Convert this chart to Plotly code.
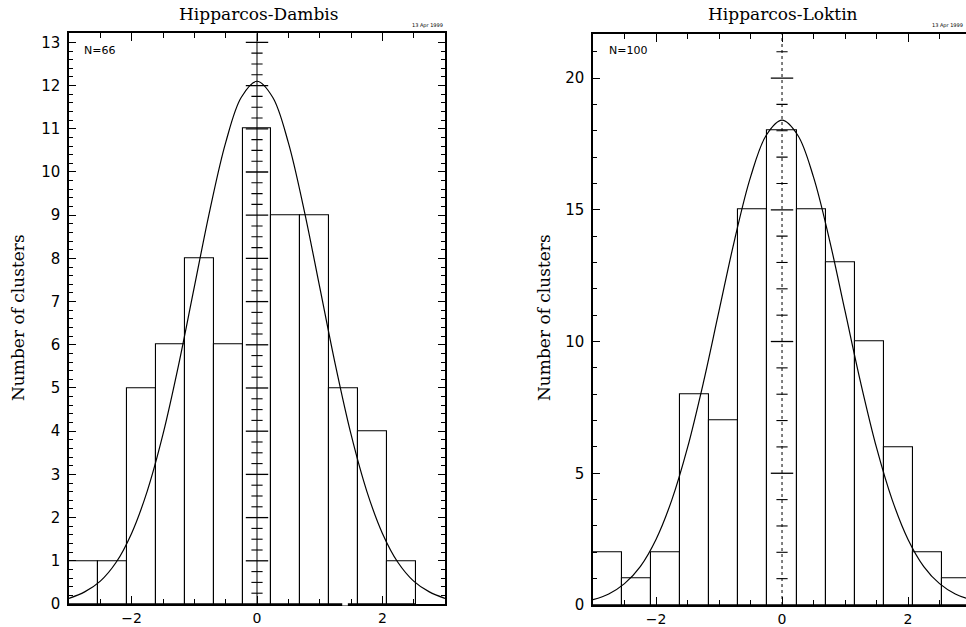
import numpy as np
import plotly.graph_objects as go

# ---------------- data ----------------
bin_width = 0.4625
left_centers = [-2.775, -2.3125, -1.85, -1.3875, -0.925, -0.4625, 0.0,
                0.4625, 0.925, 1.3875, 1.85, 2.3125]
left_counts = [1, 1, 5, 6, 8, 6, 11, 9, 9, 5, 4, 1]

right_centers = [-2.775, -2.3125, -1.85, -1.3875, -0.925, -0.4625, 0.0,
                 0.4625, 0.925, 1.3875, 1.85, 2.3125, 2.775]
right_counts = [2, 1, 2, 8, 7, 15, 18, 15, 13, 10, 6, 2, 1]

curve_x = [-3.0, -2.75, -2.5, -2.25, -2.0, -1.75, -1.5, -1.25, -1.0, -0.75, -0.5, -0.25,
           0.0, 0.25, 0.5, 0.75, 1.0, 1.25, 1.5, 1.75, 2.0, 2.25, 2.5, 2.75, 3.0]
left_curve = [0.13, 0.28, 0.53, 0.96, 1.64, 2.62, 3.93, 5.54, 7.34, 9.13, 10.68, 11.73,
              12.1, 11.73, 10.68, 9.13, 7.34, 5.54, 3.93, 2.62, 1.64, 0.96, 0.53, 0.28, 0.13]
right_curve = [0.20, 0.42, 0.81, 1.46, 2.49, 3.98, 5.97, 8.42, 11.16, 13.89, 16.24, 17.83,
               18.4, 17.83, 16.24, 13.89, 11.16, 8.42, 5.97, 3.98, 2.49, 1.46, 0.81, 0.42, 0.20]

titles = ["Hipparcos-Dambis", "Hipparcos-Loktin"]
n_labels = ["N=66", "N=100"]
y_title = "Number of clusters"
date_stamp = "13 Apr 1999"

# ---------------- figure ----------------
W, H = 966, 627
fig = go.Figure()

BLACK = "black"
LINE_W = 1.1

panels = [
    dict(xa="x", ya="y", centers=left_centers, counts=left_counts, curve=left_curve,
         ymax=13.21, xr=[-3, 3], dom_x=[69 / W, 445 / W], dom_y=[1 - 604 / H, 1 - 33.3 / H],
         major=1, minor_c=0.25, dash="solid"),
    dict(xa="x2", ya="y2", centers=right_centers, counts=right_counts, curve=right_curve,
         ymax=21.66, xr=[-3, 2.92], dom_x=[593 / W, 1.0], dom_y=[1 - 605 / H, 1 - 34.3 / H],
         major=5, minor_c=1, dash="dot"),
]

for p in panels:
    fig.add_trace(go.Bar(x=p["centers"], y=p["counts"], width=bin_width,
                         marker=dict(color="white", line=dict(color=BLACK, width=LINE_W)),
                         xaxis=p["xa"], yaxis=p["ya"], showlegend=False, hoverinfo="skip"))
    fig.add_trace(go.Scatter(x=curve_x, y=p["curve"], mode="lines",
                             line=dict(color=BLACK, width=1.2, shape="spline", smoothing=1.0),
                             xaxis=p["xa"], yaxis=p["ya"], showlegend=False, hoverinfo="skip"))
    # central vertical axis at x = 0
    fig.add_shape(type="line", xref=p["xa"], yref=p["ya"] + " domain", x0=0, x1=0, y0=0, y1=1,
                  line=dict(color=BLACK, width=1, dash=p["dash"]), layer="above")
    ticks_all = np.arange(0, p["ymax"], p["minor_c"])
    major_t = [t for t in ticks_all if abs(t / p["major"] - round(t / p["major"])) < 1e-6 and t > 0]
    minor_t = [t for t in ticks_all if t not in major_t and t > 0]
    fig.add_trace(go.Scatter(x=[0] * len(major_t), y=major_t, mode="markers",
                             marker=dict(symbol="line-ew", size=16, color=BLACK,
                                         line=dict(color=BLACK, width=1.3)),
                             xaxis=p["xa"], yaxis=p["ya"], showlegend=False, hoverinfo="skip"))
    fig.add_trace(go.Scatter(x=[0] * len(minor_t), y=minor_t, mode="markers",
                             marker=dict(symbol="line-ew", size=8, color=BLACK,
                                         line=dict(color=BLACK, width=1.1)),
                             xaxis=p["xa"], yaxis=p["ya"], showlegend=False, hoverinfo="skip"))

tick_font = dict(family="DejaVu Sans", size=15, color=BLACK)
xtick_font = dict(family="DejaVu Sans", size=14, color=BLACK)

def xaxis_cfg(p, mirror):
    return dict(domain=p["dom_x"], range=p["xr"], anchor=p["ya"], showgrid=False, zeroline=False,
                showline=True, linecolor=BLACK, linewidth=1.5, mirror=mirror, automargin=False,
                tickvals=[-2, 0, 2], ticks="inside", ticklen=8, tickwidth=1.3, tickcolor=BLACK,
                minor=dict(dtick=0.5, tick0=0, ticks="inside", ticklen=5, tickwidth=1.1,
                           tickcolor=BLACK, showgrid=False),
                tickfont=xtick_font, ticklabelstandoff=0)

def yaxis_cfg(p, mirror, minor_dtick, tickvals):
    return dict(domain=p["dom_y"], range=[0, p["ymax"]], anchor=p["xa"], showgrid=False,
                zeroline=False, showline=True, linecolor=BLACK, linewidth=1.5, mirror=mirror,
                automargin=False,
                tickvals=tickvals, ticks="inside", ticklen=7, tickwidth=1.2, tickcolor=BLACK,
                minor=dict(dtick=minor_dtick, tick0=0, ticks="inside", ticklen=4, tickwidth=1,
                           tickcolor=BLACK, showgrid=False),
                tickfont=tick_font, ticklabelstandoff=4)

fig.update_layout(
    width=W, height=H, margin=dict(l=0, r=0, t=0, b=0, autoexpand=False),
    paper_bgcolor="white", plot_bgcolor="white", barmode="overlay", bargap=0,
    xaxis=xaxis_cfg(panels[0], "ticks"),
    yaxis=yaxis_cfg(panels[0], "ticks", 0.2, list(range(0, 14))),
    xaxis2=xaxis_cfg(panels[1], "ticks"),
    yaxis2=yaxis_cfg(panels[1], False, 1, [0, 5, 10, 15, 20]),
    hovermode=False,
)

# gap in the left x-axis line
fig.add_shape(type="line", xref="x", yref="y domain", x0=1.36, x1=1.45, y0=0, y1=0,
              line=dict(color="white", width=3), layer="above")

title_font = dict(family="DejaVu Serif", size=17, color=BLACK)
for i, p in enumerate(panels):
    cx = 258 / W if i == 0 else 783 / W
    fig.add_annotation(text=titles[i], x=cx, y=1 - 14 / H, xref="paper", yref="paper",
                       showarrow=False, font=title_font, xanchor="center", yanchor="middle")
    fig.add_annotation(text=y_title, textangle=-90, x=(18 if i == 0 else 544) / W, y=1 - 318 / H,
                       xref="paper", yref="paper", showarrow=False, font=title_font,
                       xanchor="center", yanchor="middle")
    fig.add_annotation(text=n_labels[i], x=(82 if i == 0 else 607) / W, y=1 - 50 / H,
                       xref="paper", yref="paper", showarrow=False,
                       font=dict(family="DejaVu Sans", size=11, color=BLACK),
                       xanchor="left", yanchor="middle")
    fig.add_annotation(text=date_stamp, x=(445 if i == 0 else 965) / W, y=1 - 31 / H,
                       xref="paper", yref="paper", showarrow=False,
                       font=dict(family="DejaVu Sans", size=5, color=BLACK),
                       xanchor="right", yanchor="bottom")

fig.write_html("out.html", config={"displayModeBar": False},
               post_script="document.body.style.margin='0';document.body.style.overflow='hidden';")
